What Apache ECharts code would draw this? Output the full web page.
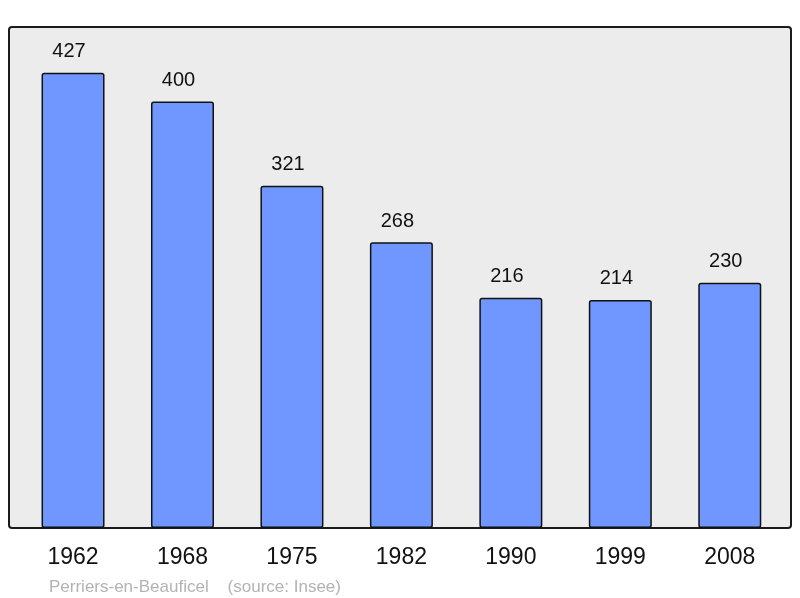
<!DOCTYPE html>
<html>
<head>
<meta charset="utf-8">
<script src="https://cdn.jsdelivr.net/npm/echarts@6/dist/echarts.min.js"></script>
<style>html,body{margin:0;padding:0;background:#fff;}#c{width:800px;height:598px;}</style>
</head>
<body>
<div id="c"></div>
<script>
var years = ['1962', '1968', '1975', '1982', '1990', '1999', '2008'];
var population = [427, 400, 321, 268, 216, 214, 230];
var caption = 'Perriers-en-Beauficel    (source: Insee)';

var chart = echarts.init(document.getElementById('c'), null, {renderer: 'canvas'});
chart.setOption({
  animation: false,
  backgroundColor: '#ffffff',
  title: {
    text: caption,
    left: 44,
    top: 574,
    textStyle: {color: '#b3b3b3', fontSize: 17, fontWeight: 'normal', fontFamily: 'Liberation Sans'}
  },
  graphic: [{
    type: 'rect',
    z: 0,
    shape: {x: 9, y: 27, width: 782, height: 501, r: 3},
    style: {fill: '#ececec', stroke: '#1a1a1a', lineWidth: 2}
  }],
  grid: {left: 18.3, top: 27, width: 766.2, height: 501, containLabel: false},
  xAxis: {
    type: 'category',
    data: years,
    axisLine: {show: false},
    axisTick: {show: false},
    axisLabel: {color: '#111', fontSize: 23, margin: 18, fontFamily: 'Liberation Sans'}
  },
  yAxis: {
    type: 'value',
    min: 0,
    max: 470,
    show: false,
    splitLine: {show: false}
  },
  series: [{
    type: 'bar',
    data: population,
    barWidth: 63,
    itemStyle: {color: '#7097ff', borderColor: '#111', borderWidth: 1.5, borderRadius: 2},
    label: {show: true, position: 'top', distance: 11, offset: [-4, 0], color: '#111', fontSize: 20, fontFamily: 'Liberation Sans'}
  }]
});
</script>
</body>
</html>
